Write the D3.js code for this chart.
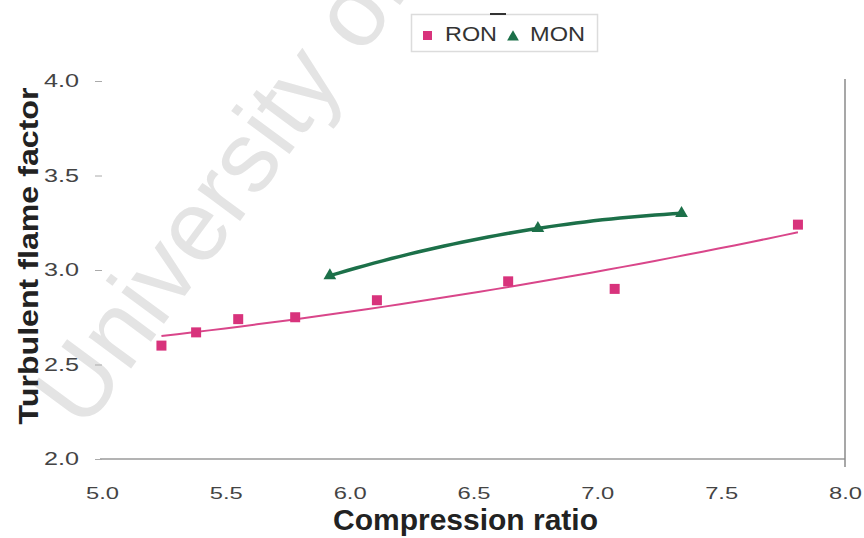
<!DOCTYPE html>
<html>
<head>
<meta charset="utf-8">
<script src="https://cdn.jsdelivr.net/npm/d3@7"></script>
<style>
  html, body { margin: 0; padding: 0; background: #fff; }
  svg { display: block; font-family: Arial, "Liberation Sans", sans-serif; }
</style>
</head>
<body>
<svg id="chart" width="864" height="538"></svg>
<script>
// ---- data ----
const ronX = [5.24, 5.38, 5.55, 5.78, 6.11, 6.64, 7.07, 7.81];
const ronY = [2.60, 2.67, 2.74, 2.75, 2.84, 2.94, 2.90, 3.24];
const monX = [5.92, 6.76, 7.34];
const monY = [2.97, 3.22, 3.30];
const xTicks = [5.0, 5.5, 6.0, 6.5, 7.0, 7.5, 8.0];
const yTicks = [2.0, 2.5, 3.0, 3.5, 4.0];
const seriesNames = ["RON", "MON"];
const colors = { RON: "#d8337c", MON: "#1c7049" };
const ronLine = "#d9468a";
const xTitle = "Compression ratio";
const yTitle = "Turbulent flame factor";
const watermark = "University of Cape Town";

const svg = d3.select("#chart");

const x = d3.scaleLinear().domain([5, 8]).range([102, 845]);
const y = d3.scaleLinear().domain([2, 4]).range([459, 81]);

// watermark
svg.append("text")
  .attr("transform", "translate(84,432) rotate(-53.5)")
  .attr("font-size", 100)
  .attr("fill", "#e4e4e4")
  .text(watermark);

// quadratic least squares fit
function quadFit(xs, ys) {
  const n = xs.length;
  let s = [0,0,0,0,0], t = [0,0,0];
  for (let i = 0; i < n; i++) {
    let p = 1;
    for (let k = 0; k < 5; k++) { s[k] += p; p *= xs[i]; }
    p = 1;
    for (let k = 0; k < 3; k++) { t[k] += ys[i] * p; p *= xs[i]; }
  }
  const A = [[s[0], s[1], s[2], t[0]], [s[1], s[2], s[3], t[1]], [s[2], s[3], s[4], t[2]]];
  for (let i = 0; i < 3; i++) {
    let m = i;
    for (let r = i + 1; r < 3; r++) if (Math.abs(A[r][i]) > Math.abs(A[m][i])) m = r;
    [A[i], A[m]] = [A[m], A[i]];
    for (let r = 0; r < 3; r++) {
      if (r === i) continue;
      const f = A[r][i] / A[i][i];
      for (let c = i; c < 4; c++) A[r][c] -= f * A[i][c];
    }
  }
  const c = A.map((row, i) => row[3] / row[i]);
  return v => c[0] + c[1] * v + c[2] * v * v;
}

function trend(xs, ys) {
  const f = quadFit(xs, ys);
  const x0 = d3.min(xs), x1 = d3.max(xs);
  return d3.range(0, 41).map(i => { const v = x0 + (x1 - x0) * i / 40; return [v, f(v)]; });
}

const line = d3.line().x(d => x(d[0])).y(d => y(d[1])).curve(d3.curveLinear);

// x axis
const xAxis = svg.append("g")
  .attr("transform", `translate(0,${y(2)})`)
  .call(d3.axisBottom(x).tickValues(xTicks).tickFormat(d3.format(".1f")).tickSize(0).tickPadding(28));
xAxis.select(".domain").attr("stroke", "#9a9a9a").attr("stroke-width", 1.5).attr("d", `M${x(5)-2},0H${x(8)}`);
xAxis.selectAll("text")
  .attr("font-size", 17).attr("fill", "#444")
  .attr("font-family", "Arial, 'Liberation Sans', sans-serif")
  .attr("textLength", 33).attr("lengthAdjust", "spacingAndGlyphs")
  .attr("dy", 0).attr("y", 40);

// y axis
const yAxis = svg.append("g")
  .attr("transform", `translate(${x(5)},0)`)
  .call(d3.axisLeft(y).tickValues(yTicks).tickFormat(d3.format(".1f")).tickSize(7).tickPadding(16));
yAxis.select(".domain").remove();
yAxis.selectAll(".tick line").attr("stroke", "#aaa");
yAxis.selectAll("text")
  .attr("font-size", 18).attr("fill", "#444")
  .attr("font-family", "Arial, 'Liberation Sans', sans-serif")
  .attr("textLength", 35).attr("lengthAdjust", "spacingAndGlyphs");

// right border
svg.append("line")
  .attr("x1", x(8)).attr("x2", x(8))
  .attr("y1", y(4) - 2).attr("y2", y(2) + 8)
  .attr("stroke", "#8a8a8a").attr("stroke-width", 1.5);

// trendlines
svg.append("path").datum(trend(ronX, ronY))
  .attr("d", line).attr("fill", "none")
  .attr("stroke", ronLine).attr("stroke-width", 2);
svg.append("path").datum(trend(monX, monY))
  .attr("d", line).attr("fill", "none")
  .attr("stroke", colors.MON).attr("stroke-width", 3.5);

// markers
svg.append("g").selectAll("rect").data(ronX.map((v, i) => [v, ronY[i]]))
  .join("rect")
  .attr("x", d => x(d[0]) - 5).attr("y", d => y(d[1]) - 5)
  .attr("width", 10).attr("height", 10)
  .attr("fill", colors.RON);

const tri = d3.symbol().type(d3.symbolTriangle).size(70);
svg.append("g").selectAll("path").data(monX.map((v, i) => [v, monY[i]]))
  .join("path")
  .attr("d", tri)
  .attr("transform", d => `translate(${x(d[0])},${y(d[1])})`)
  .attr("fill", colors.MON);

// legend
const lg = svg.append("g");
lg.append("rect").attr("x", 411.5).attr("y", 14.5).attr("width", 186).attr("height", 37)
  .attr("fill", "#fff").attr("stroke", "#dcdcdc").attr("stroke-width", 1.5);
lg.append("line").attr("x1", 490).attr("x2", 506).attr("y1", 14).attr("y2", 14)
  .attr("stroke", "#333").attr("stroke-width", 2);
lg.append("rect").attr("x", 423).attr("y", 31).attr("width", 9).attr("height", 9).attr("fill", colors.RON);
lg.append("text").attr("x", 445).attr("y", 41).attr("font-size", 21).attr("fill", "#333")
  .attr("textLength", 52).attr("lengthAdjust", "spacingAndGlyphs").text(seriesNames[0]);
lg.append("path").attr("d", d3.symbol().type(d3.symbolTriangle).size(60))
  .attr("transform", "translate(513,37)").attr("fill", colors.MON);
lg.append("text").attr("x", 530).attr("y", 41).attr("font-size", 21).attr("fill", "#333")
  .attr("textLength", 55).attr("lengthAdjust", "spacingAndGlyphs").text(seriesNames[1]);

// axis titles
svg.append("text")
  .attr("x", 465.5).attr("y", 530)
  .attr("text-anchor", "middle")
  .attr("font-size", 29).attr("font-weight", "bold").attr("fill", "#222")
  .attr("textLength", 265).attr("lengthAdjust", "spacingAndGlyphs")
  .text(xTitle);

svg.append("text")
  .attr("transform", "translate(38,256) rotate(-90)")
  .attr("text-anchor", "middle")
  .attr("font-size", 27).attr("font-weight", "bold").attr("fill", "#222")
  .attr("textLength", 337).attr("lengthAdjust", "spacingAndGlyphs")
  .text(yTitle);
</script>
</body>
</html>
